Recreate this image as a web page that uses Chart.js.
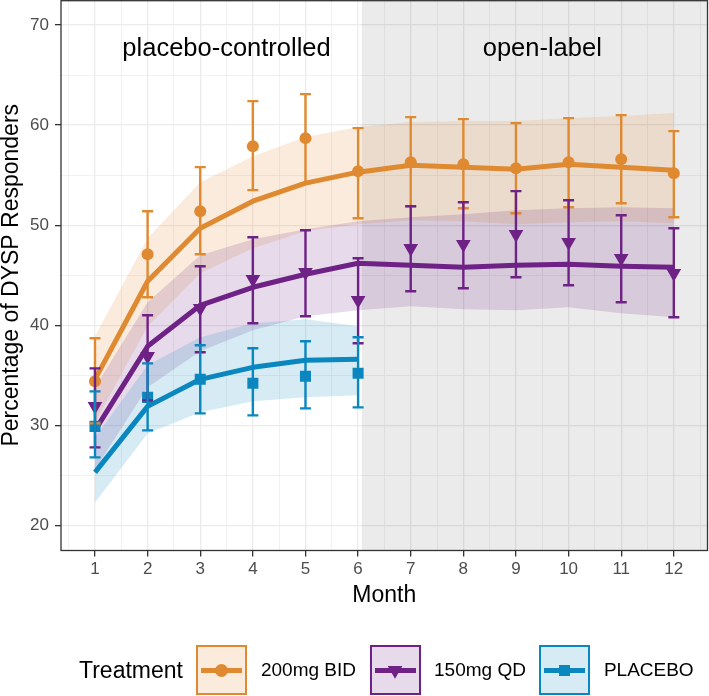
<!DOCTYPE html>
<html>
<head>
<meta charset="utf-8">
<script src="https://cdn.jsdelivr.net/npm/chart.js@4.4.0/dist/chart.umd.min.js"></script>
<style>
  body { margin: 0; background: #fff; }
  #wrap { position: relative; width: 709px; height: 696px; }
  #legend { position: absolute; left: 79px; top: 645px; height: 50px; display: flex; align-items: center; gap: 13.5px;
            font-family: "Liberation Sans", Arial, sans-serif; color: #000; }
  #legend .title { font-size: 23px; }
  #legend .lab { font-size: 19px; }
  .key { position: relative; width: 51px; height: 50px; box-sizing: border-box; border: 2px solid; }
  .key .ln { position: absolute; left: 3px; right: 3px; top: 50%; height: 5px; margin-top: -2.5px; }
  .key .mk { position: absolute; left: 50%; top: 50%; }
</style>
</head>
<body>
<div id="wrap">
  <canvas id="dyspChart" width="709" height="696"></canvas>
  <div id="legend"></div>
</div>
<script>
  const MONTHS = [1, 2, 3, 4, 5, 6, 7, 8, 9, 10, 11, 12];
  const PLACEBO_MONTHS = [1, 2, 3, 4, 5, 6];
  const TREATMENTS = ['200mg BID', '150mg QD', 'PLACEBO'];
  const PHASES = ['placebo-controlled', 'open-label'];
  const Y_TICKS = [20, 30, 40, 50, 60, 70];

  // observed % responders with 95% CI
  const bid200Obs = [34.4, 47.1, 51.4, 57.9, 58.7, 55.4, 56.3, 56.1, 55.7, 56.3, 56.6, 55.2];
  const bid200Lo  = [30.2, 42.8, 47.1, 53.5, 54.2, 50.7, 51.9, 51.7, 51.2, 51.8, 52.2, 50.8];
  const bid200Hi  = [38.7, 51.4, 55.8, 62.4, 63.1, 59.7, 60.8, 60.6, 60.2, 60.7, 61.0, 59.4];
  const qd150Obs  = [31.9, 36.9, 41.7, 44.6, 45.3, 42.5, 47.7, 48.1, 49.1, 48.3, 46.7, 45.2];
  const qd150Lo   = [27.8, 32.5, 37.3, 40.2, 40.9, 38.2, 43.4, 43.7, 44.8, 44.0, 42.3, 40.8];
  const qd150Hi   = [35.7, 41.0, 45.9, 48.8, 49.5, 46.7, 51.9, 52.3, 53.4, 52.5, 51.0, 49.7];
  const placeboObs = [29.9, 32.8, 34.6, 34.2, 34.9, 35.2];
  const placeboLo  = [26.8, 29.5, 31.2, 31.0, 31.7, 31.8];
  const placeboHi  = [33.4, 36.2, 38.0, 37.7, 38.4, 38.8];

  // model fit and its confidence band
  const bid200Fit    = [34.6, 44.4, 49.7, 52.4, 54.2, 55.3, 56.0, 55.8, 55.6, 56.1, 55.8, 55.5];
  const bid200BandLo = [30.3, 39.9, 45.2, 47.7, 49.4, 50.1, 50.5, 50.4, 50.1, 50.3, 50.4, 50.2];
  const bid200BandHi = [38.9, 48.7, 54.3, 56.9, 58.8, 59.8, 60.3, 60.4, 60.4, 60.7, 60.9, 61.2];
  const qd150Fit     = [29.5, 37.9, 42.0, 43.8, 45.1, 46.2, 46.0, 45.8, 46.0, 46.1, 45.9, 45.8];
  const qd150BandLo  = [25.6, 33.8, 37.4, 39.5, 40.9, 41.5, 41.9, 41.6, 41.5, 41.8, 41.2, 40.8];
  const qd150BandHi  = [33.8, 42.3, 47.0, 48.6, 49.6, 50.4, 50.8, 51.1, 51.5, 51.7, 51.8, 51.7];
  const placeboFit    = [25.3, 31.9, 34.6, 35.8, 36.5, 36.6];
  const placeboBandLo = [22.3, 29.2, 31.3, 32.4, 32.8, 33.0];
  const placeboBandHi = [28.8, 36.0, 38.8, 40.2, 40.6, 39.9];

  const OPEN_LABEL_START = 6.07;
  const PHASE_LABEL_X = [3.5, 9.5];
  const PHASE_LABEL_Y = 67.6;

  const series = [
    { name: TREATMENTS[0], color: '#DF8A31', months: MONTHS, obs: bid200Obs, lo: bid200Lo, hi: bid200Hi,
      fit: bid200Fit, bandLo: bid200BandLo, bandHi: bid200BandHi, shape: 'circle', radius: 6, rot: 0 },
    { name: TREATMENTS[1], color: '#6F2285', months: MONTHS, obs: qd150Obs, lo: qd150Lo, hi: qd150Hi,
      fit: qd150Fit, bandLo: qd150BandLo, bandHi: qd150BandHi, shape: 'triangle', radius: 8.5, rot: 180 },
    { name: TREATMENTS[2], color: '#0A87BF', months: PLACEBO_MONTHS, obs: placeboObs, lo: placeboLo, hi: placeboHi,
      fit: placeboFit, bandLo: placeboBandLo, bandHi: placeboBandHi, shape: 'rect', radius: 7.8, rot: 0 }
  ];

  function alpha(hex, a) {
    const n = parseInt(hex.slice(1), 16);
    return 'rgba(' + (n >> 16) + ',' + ((n >> 8) & 255) + ',' + (n & 255) + ',' + a + ')';
  }
  function pts(xs, ys) { return xs.map((x, i) => ({ x: x, y: ys[i] })); }

  const datasets = [];
  series.forEach((s, k) => {
    datasets.push({ label: s.name + ' band', data: pts(s.months, s.bandHi), borderColor: 'transparent', borderWidth: 0,
      pointRadius: 0, backgroundColor: alpha(s.color, 0.17), fill: '+1', order: 30 - k });
    datasets.push({ label: s.name + ' band lo', data: pts(s.months, s.bandLo), borderColor: 'transparent', borderWidth: 0,
      pointRadius: 0, fill: false, order: 30 - k });
  });
  series.forEach((s, k) => {
    datasets.push({ label: s.name + ' fit', data: pts(s.months, s.fit), borderColor: s.color, borderWidth: 5,
      pointRadius: 0, fill: false, tension: 0, borderJoinStyle: 'round', order: 20 - k });
  });
  series.forEach((s, k) => {
    datasets.push({ label: s.name, data: pts(s.months, s.obs), showLine: false, pointStyle: s.shape,
      pointRadius: s.radius, pointRotation: s.rot, pointBackgroundColor: s.color, pointBorderWidth: 0,
      borderColor: s.color, order: 10 - k });
  });

  const shadePlugin = {
    id: 'openLabelShade',
    beforeDatasetsDraw(chart) {
      const { ctx, chartArea, scales } = chart;
      const x0 = scales.x.getPixelForValue(OPEN_LABEL_START);
      ctx.save();
      ctx.fillStyle = 'rgba(0,0,0,0.08)';
      ctx.fillRect(x0, chartArea.top, chartArea.right - x0, chartArea.bottom - chartArea.top);
      ctx.restore();
    }
  };

  const CAP = 5.5;
  const errorBarPlugin = {
    id: 'errorBars',
    afterDatasetsDraw(chart) {
      const { ctx, scales: { x, y } } = chart;
      ctx.save();
      ctx.lineWidth = 2.4;
      series.forEach(s => {
        ctx.strokeStyle = s.color;
        s.months.forEach((m, i) => {
          const px = x.getPixelForValue(m);
          const yLo = y.getPixelForValue(s.lo[i]);
          const yHi = y.getPixelForValue(s.hi[i]);
          ctx.beginPath();
          ctx.moveTo(px, yLo); ctx.lineTo(px, yHi);
          ctx.moveTo(px - CAP, yLo); ctx.lineTo(px + CAP, yLo);
          ctx.moveTo(px - CAP, yHi); ctx.lineTo(px + CAP, yHi);
          ctx.stroke();
        });
      });
      ctx.restore();
    }
  };

  const framePlugin = {
    id: 'frame',
    afterDraw(chart) {
      const { ctx, chartArea: a, scales: { x, y } } = chart;
      ctx.save();
      ctx.fillStyle = '#000';
      ctx.font = '25.5px "Liberation Sans", Arial, sans-serif';
      ctx.textAlign = 'center';
      ctx.textBaseline = 'middle';
      PHASES.forEach((p, i) => ctx.fillText(p, x.getPixelForValue(PHASE_LABEL_X[i]), y.getPixelForValue(PHASE_LABEL_Y)));
      ctx.strokeStyle = '#333333';
      ctx.lineWidth = 1.3;
      ctx.strokeRect(a.left, a.top + 0.7, a.right - a.left, a.bottom - a.top - 0.7);
      ctx.restore();
    }
  };

  Chart.defaults.font.family = '"Liberation Sans", Arial, sans-serif';

  function noPad(sc) { sc.paddingTop = 0; sc.paddingBottom = 0; sc.paddingLeft = 0; sc.paddingRight = 0; }
  const isMajorX = v => Number.isInteger(v);
  const isMajorY = v => Y_TICKS.includes(v);

  new Chart(document.getElementById('dyspChart'), {
    type: 'line',
    data: { datasets: datasets },
    options: {
      responsive: false,
      animation: false,
      events: [],
      layout: { autoPadding: false, padding: { top: 0, right: 1.5, bottom: 87, left: 0 } },
      plugins: { legend: { display: false }, tooltip: { enabled: false } },
      scales: {
        x: {
          type: 'linear', min: 0.354, max: 12.64,
          afterBuildTicks: sc => {
            sc.ticks = MONTHS.flatMap(m => [m - 0.5, m]).concat([12.5]).map(v => ({ value: v }));
          },
          afterFit: sc => { sc.height = 58.5; noPad(sc); },
          ticks: { autoSkip: false, maxRotation: 0, padding: 3, color: '#4D4D4D', font: { size: 17 },
            callback: v => isMajorX(v) ? String(v) : '' },
          grid: {
            color: '#EBEBEB',
            lineWidth: c => isMajorX(c.tick.value) ? 1.3 : 0.7,
            tickLength: 6,
            tickWidth: 1.3,
            tickColor: c => isMajorX(c.tick.value) ? '#333333' : 'rgba(0,0,0,0)'
          },
          border: { display: false },
          title: { display: true, text: 'Month', color: '#000', font: { size: 23 }, padding: 0 }
        },
        y: {
          type: 'linear', min: 17.5, max: 72.5,
          afterBuildTicks: sc => {
            sc.ticks = Y_TICKS.flatMap(v => [v, v + 5]).filter(v => v <= 70).map(v => ({ value: v }));
          },
          afterFit: sc => { sc.width = 61; noPad(sc); },
          ticks: { padding: 6, color: '#4D4D4D', font: { size: 17 },
            callback: v => isMajorY(v) ? String(v) : '' },
          grid: {
            color: '#EBEBEB',
            lineWidth: c => isMajorY(c.tick.value) ? 1.3 : 0.7,
            tickLength: 6,
            tickWidth: 1.3,
            tickColor: c => isMajorY(c.tick.value) ? '#333333' : 'rgba(0,0,0,0)'
          },
          border: { display: false },
          title: { display: true, text: 'Percentage of DYSP Responders', color: '#000',
            font: { size: 23, lineHeight: 1 }, padding: 0 }
        }
      }
    },
    plugins: [shadePlugin, errorBarPlugin, framePlugin]
  });

  // legend
  const legend = document.getElementById('legend');
  legend.innerHTML = '<span class="title">Treatment</span>';
  series.forEach(s => {
    const key = document.createElement('div');
    key.className = 'key';
    key.style.borderColor = s.color;
    key.style.background = alpha(s.color, 0.17);
    const ln = document.createElement('div');
    ln.className = 'ln';
    ln.style.background = s.color;
    key.appendChild(ln);
    const mk = document.createElement('div');
    mk.className = 'mk';
    mk.style.background = s.color;
    if (s.shape === 'circle') {
      mk.style.cssText += 'width:13px;height:13px;margin:-6.5px 0 0 -6.5px;border-radius:50%;';
    } else if (s.shape === 'triangle') {
      mk.style.cssText += 'width:15px;height:13px;margin:-4.3px 0 0 -7.5px;clip-path:polygon(0 0,100% 0,50% 100%);';
    } else {
      mk.style.cssText += 'width:11px;height:11px;margin:-5.5px 0 0 -5.5px;';
    }
    key.appendChild(mk);
    legend.appendChild(key);
    const lab = document.createElement('span');
    lab.className = 'lab';
    lab.textContent = s.name;
    legend.appendChild(lab);
  });
</script>
</body>
</html>
